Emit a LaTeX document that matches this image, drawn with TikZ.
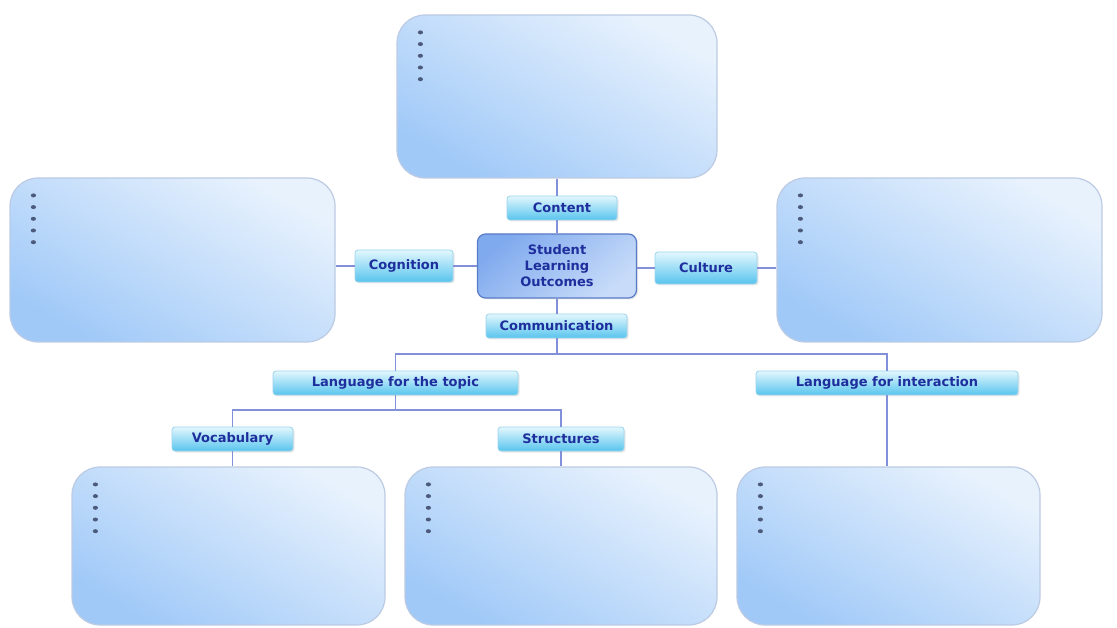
\documentclass[tikz,border=0pt]{standalone}
\usepackage{fontspec}
\setmainfont{DejaVu Sans}
\usetikzlibrary{shadows,calc}
\definecolor{bigdraw}{HTML}{BCCBE3}
\definecolor{biglight}{HTML}{E8F2FD}
\definecolor{bigdark}{HTML}{A0C9F8}
\definecolor{lablight}{HTML}{E2F7FD}
\definecolor{labdark}{HTML}{58C4EE}
\definecolor{labdraw}{HTML}{9CD4EC}
\definecolor{labtext}{HTML}{1E2E9C}
\definecolor{ctrdark}{HTML}{80AAEE}
\definecolor{ctrlight}{HTML}{C8DCF9}
\definecolor{ctrdraw}{HTML}{5A7BC6}
\definecolor{linkcol}{HTML}{8190D8}
\definecolor{dotcol}{HTML}{4C5A7C}
\tikzset{
  bigbox/.style={draw=bigdraw, line width=1.2pt, rounded corners=28pt,
    top color=biglight, bottom color=bigdark, shading angle=-30, inner sep=0pt},
  labbox/.style={draw=labdraw, line width=0.8pt, rounded corners=3pt,
    top color=lablight, bottom color=labdark, text=labtext,
    font=\bfseries\fontsize{13}{15}\selectfont, inner sep=0pt,
    drop shadow={opacity=0.18, shadow xshift=1.5pt, shadow yshift=-1.5pt}},
  ctrbox/.style={draw=ctrdraw, line width=1.2pt, rounded corners=8pt,
    top color=ctrdark, bottom color=ctrlight, shading angle=40, text=labtext,
    font=\bfseries\fontsize{13}{16}\selectfont, align=center, inner sep=0pt,
    drop shadow={opacity=0.18, shadow xshift=1.5pt, shadow yshift=-1.5pt}},
  link/.style={draw=linkcol, line width=1.6pt}
}
\newcommand{\bulletdots}[1]{%
  \foreach \k in {0,...,4} {\fill[dotcol] ($(#1.north west)+(24,18+11.7*\k)$) ellipse (2.6pt and 2pt);}}
\begin{document}
\begin{tikzpicture}[x=1pt,y=-1pt]
\useasboundingbox[fill=white] (0,0) rectangle (1117,628);
% big boxes
\node[bigbox, minimum width=320pt, minimum height=163pt] (topb) at (557,96.5) {};
\node[bigbox, minimum width=325pt, minimum height=164pt] (leftb) at (172.5,260) {};
\node[bigbox, minimum width=325pt, minimum height=164pt] (rightb) at (939.5,260) {};
\node[bigbox, minimum width=313pt, minimum height=158pt] (blb) at (228.5,546) {};
\node[bigbox, minimum width=312pt, minimum height=158pt] (bmb) at (561,546) {};
\node[bigbox, minimum width=303pt, minimum height=158pt] (brb) at (888.5,546) {};
% labels
\node[labbox, minimum width=110pt, minimum height=24pt] (content) at (562,208) {Content};
\node[ctrbox, minimum width=159pt, minimum height=64pt] (slo) at (557,266) {Student\\Learning\\Outcomes};
\node[labbox, minimum width=98pt, minimum height=32pt] (cognition) at (404,266) {Cognition};
\node[labbox, minimum width=102pt, minimum height=32pt] (culture) at (706,268) {Culture};
\node[labbox, minimum width=141pt, minimum height=24pt] (comm) at (556.5,326) {Communication};
\node[labbox, minimum width=245pt, minimum height=24pt] (topic) at (395.5,383) {Language for the topic};
\node[labbox, minimum width=262pt, minimum height=24pt] (inter) at (887,383) {Language for interaction};
\node[labbox, minimum width=121pt, minimum height=24pt] (vocab) at (232.5,439) {Vocabulary};
\node[labbox, minimum width=126pt, minimum height=24pt] (struct) at (561,439) {Structures};
\coordinate (h1) at (557,354);
\coordinate (h2) at (395.5,410);
% connectors
\draw[link] (topb.south) -- (topb.south |- content.north);
\draw[link] (slo.north |- content.south) -- (slo.north);
\draw[link] (slo.south) -- (slo.south |- comm.north);
\draw[link] (leftb.east |- cognition.west) -- (cognition.west);
\draw[link] (cognition.east) -- (slo.west |- cognition.east);
\draw[link] (slo.east |- culture.west) -- (culture.west);
\draw[link] (culture.east) -- (rightb.west |- culture.east);
\draw[link] (comm.south -| h1) -- (h1);
\draw[link] (topic.north) |- (h1) -| (inter.north);
\draw[link] (topic.south) -- (h2);
\draw[link] (vocab.north) |- (h2) -| (struct.north);
\draw[link] (vocab.south) -- (vocab.south |- blb.north);
\draw[link] (struct.south) -- (struct.south |- bmb.north);
\draw[link] (inter.south) -- (inter.south |- brb.north);
% bullet dots
\bulletdots{topb}
\bulletdots{leftb}
\bulletdots{rightb}
\bulletdots{blb}
\bulletdots{bmb}
\bulletdots{brb}
\end{tikzpicture}
\end{document}
